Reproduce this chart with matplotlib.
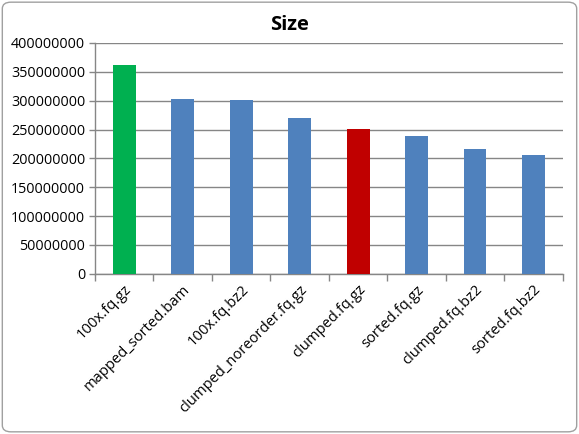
import matplotlib
matplotlib.use("Agg")
import matplotlib.pyplot as plt
from matplotlib.patches import FancyBboxPatch
from matplotlib.ticker import FixedLocator, NullFormatter, FixedFormatter

categories = ["100x.fq.gz", "mapped_sorted.bam", "100x.fq.bz2", "clumped_noreorder.fq.gz",
              "clumped.fq.gz", "sorted.fq.gz", "clumped.fq.bz2", "sorted.fq.bz2"]
sizes = [361000000, 303500000, 301800000, 270600000, 251600000, 239500000, 217000000, 206600000]
bar_colors = ["#00B050", "#4F81BD", "#4F81BD", "#4F81BD", "#C00000", "#4F81BD", "#4F81BD", "#4F81BD"]
yticks = [0, 50000000, 100000000, 150000000, 200000000, 250000000, 300000000, 350000000, 400000000]

plt.rcParams['font.family'] = ['Open Sans', 'DejaVu Sans']

fig = plt.figure(figsize=(5.79, 4.34), dpi=100)
ax = fig.add_axes([0.164, 0.369, 0.808, 0.532])

x = list(range(len(categories)))
ax.bar(x, sizes, width=0.39, color=bar_colors, zorder=3)
ax.set_xlim(-0.5, len(categories) - 0.5)
ax.set_ylim(0, 400000000)

ax.set_yticks(yticks)
ax.set_yticklabels([str(v) for v in yticks], fontsize=10.4)
ax.yaxis.grid(True, color="#868686", linewidth=1.0, zorder=0)
ax.tick_params(axis='y', length=4, color="#868686", width=1, pad=3)

# x ticks at category boundaries, labels at centers
ax.xaxis.set_major_locator(FixedLocator([i - 0.5 for i in range(len(categories) + 1)]))
ax.xaxis.set_major_formatter(NullFormatter())
ax.xaxis.set_minor_locator(FixedLocator(x))
ax.xaxis.set_minor_formatter(FixedFormatter(categories))
ax.tick_params(axis='x', which='major', length=5, color="#868686", width=1, direction='out')
ax.tick_params(axis='x', which='minor', length=0, pad=6)
for lbl in ax.get_xticklabels(minor=True):
    lbl.set_rotation(45)
    lbl.set_ha('right')
    lbl.set_va('top')
    lbl.set_rotation_mode('anchor')
    lbl.set_fontsize(10.6)

for s in ['top', 'right']:
    ax.spines[s].set_visible(False)
for s in ['left', 'bottom']:
    ax.spines[s].set_color("#868686")
    ax.spines[s].set_linewidth(1)

fig.text(0.5, 0.942, "Size", ha='center', va='center', fontsize=14.5, fontweight='bold')

border = FancyBboxPatch((0.004, 0.005), 0.992, 0.99, boxstyle="round,pad=0,rounding_size=0.015",
                        transform=fig.transFigure, fill=False, edgecolor="#A0A0A0", linewidth=1)
fig.patches.append(border)

fig.savefig("out.png", dpi=100)
